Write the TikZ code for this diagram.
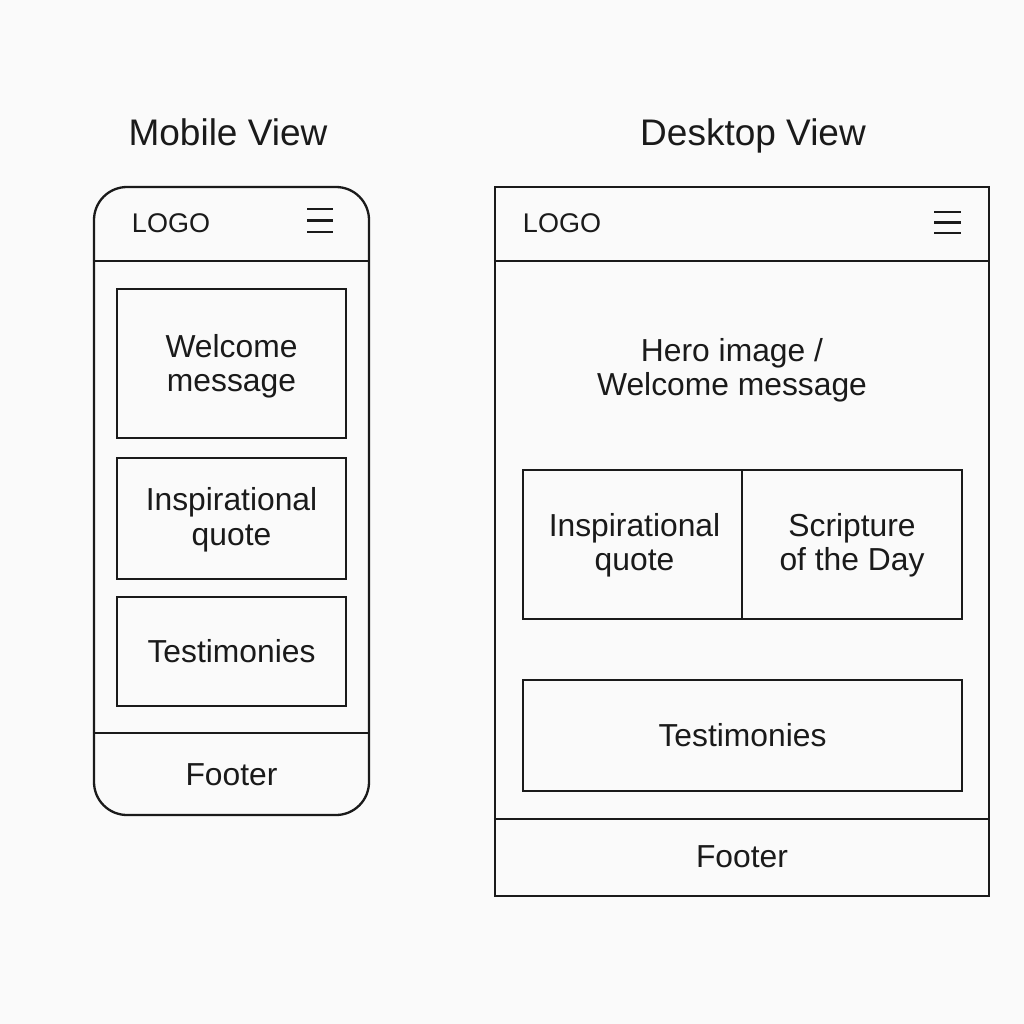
\documentclass[tikz,border=0pt]{standalone}
\usepackage{fontspec}
\setmainfont{Liberation Sans}
\definecolor{paper}{HTML}{FAFAFA}
\definecolor{ink}{HTML}{1A1A1A}
\begin{document}
\begin{tikzpicture}[x=1pt,y=-1pt,
  stroke/.style={draw=ink, line width=2.3pt},
  frame/.style={stroke, rectangle, inner sep=0pt},
  panel/.style={stroke, rectangle, inner sep=0pt},
  label/.style={inner sep=0pt, align=center, text=ink,
    font=\fontsize{31.8}{34.5}\selectfont},
  title/.style={inner sep=0pt, anchor=base, text=ink, font=\fontsize{37}{40}\selectfont},
  logo/.style={inner sep=0pt, text=ink, font=\fontsize{27}{30}\selectfont},
  burger/.style={draw=ink, line width=2.4pt}]
\useasboundingbox[fill=paper] (0,0) rectangle (1024,1024);

% ---------- titles ----------
\node[title] (tmob) at (228,146) {Mobile View};
\node[title] (tdesk) at (753,146) {Desktop View};

% ---------- mobile layout ----------
\node[frame, rounded corners=33pt, minimum width=275pt, minimum height=628pt]
  (mframe) at (231.5,501) {};
\coordinate (mhead) at (0,261);
\coordinate (mfoot) at (0,733);
\draw[stroke] (mframe.west |- mhead) -- (mframe.east |- mhead);
\draw[stroke] (mframe.west |- mfoot) -- (mframe.east |- mfoot);

\node[logo] (mlogo) at (171,223) {LOGO};
\coordinate (mbl) at (307,209); \coordinate (mbr) at (333,209);
\draw[burger] (mbl) -- (mbr);
\draw[burger] ([yshift=-11.5pt]mbl) -- ([yshift=-11.5pt]mbr);
\draw[burger] ([yshift=-23pt]mbl) -- ([yshift=-23pt]mbr);

\node[panel, minimum width=229pt, minimum height=149pt] (mwelcome) at (231.5,363.5) {};
\node[label] (mwelcomeT) at ([yshift=-3pt]mwelcome.center) {Welcome\\message};
\node[panel, minimum width=229pt, minimum height=121pt] (mquote) at (231.5,518.5) {};
\node[label] (mquoteT) at ([yshift=-1.5pt]mquote.center) {Inspirational\\quote};
\node[panel, minimum width=229pt, minimum height=109pt] (mtest) at (231.5,651.5) {};
\node[label] (mtestT) at (mtest.center) {Testimonies};
\node[label] (mfooter) at (231.5,775) {Footer};

% ---------- desktop layout ----------
\node[frame, minimum width=494pt, minimum height=709pt] (dframe) at (742,541.5) {};
\coordinate (dhead) at (0,261);
\coordinate (dfoot) at (0,819);
\draw[stroke] (dframe.west |- dhead) -- (dframe.east |- dhead);
\draw[stroke] (dframe.west |- dfoot) -- (dframe.east |- dfoot);

\node[logo] (dlogo) at (562,223) {LOGO};
\coordinate (dbl) at (934,212); \coordinate (dbr) at (961,212);
\draw[burger] (dbl) -- (dbr);
\draw[burger] ([yshift=-10.5pt]dbl) -- ([yshift=-10.5pt]dbr);
\draw[burger] ([yshift=-21pt]dbl) -- ([yshift=-21pt]dbr);

\node[label] (dhero) at (732,370.5) {Hero image /\\Welcome message};
\node[panel, minimum width=219pt, minimum height=149pt] (dquote) at (632.5,544.5) {};
\node[label] (dquoteT) at ([xshift=2pt,yshift=-1pt]dquote.center) {Inspirational\\quote};
\node[panel, minimum width=220pt, minimum height=149pt] (dscripture) at (852,544.5) {};
\node[label] (dscriptureT) at ([yshift=-1pt]dscripture.center) {Scripture\\of the Day};
\node[panel, minimum width=439pt, minimum height=111pt] (dtest) at (742.5,735.5) {};
\node[label] (dtestT) at (dtest.center) {Testimonies};
\node[label] (dfooter) at (742,857) {Footer};
\end{tikzpicture}
\end{document}
